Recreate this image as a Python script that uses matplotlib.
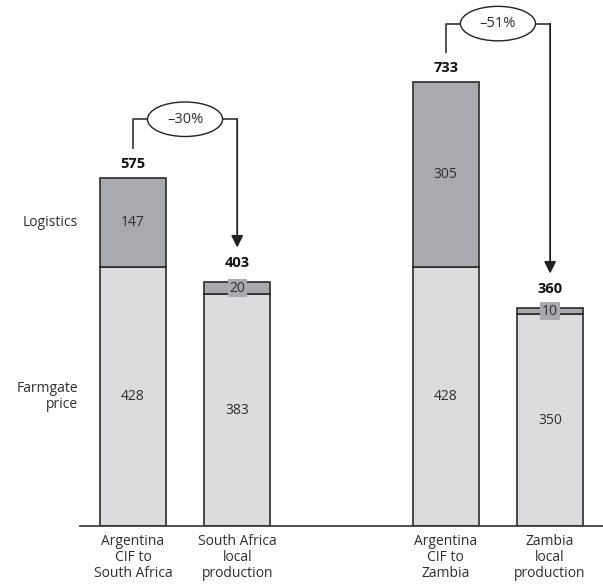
import matplotlib.pyplot as plt
from matplotlib.patches import Ellipse

# data
categories = ['Argentina\nCIF to\nSouth Africa', 'South Africa\nlocal\nproduction',
              'Argentina\nCIF to\nZambia', 'Zambia\nlocal\nproduction']
farmgate = [428, 383, 428, 350]
logistics = [147, 20, 305, 10]
totals = [575, 403, 733, 360]
changes = ['\u201330%', '\u201351%']  # from bar 0 -> 1 and bar 2 -> 3

pos = [0, 1, 3, 4]
c_log = '#a9aab0'
c_farm = '#dcdcde'
c_edge = '#2b2b2b'
c_txt = '#2e2e2e'

plt.rcParams['font.family'] = ['Open Sans', 'DejaVu Sans']

fig = plt.figure(figsize=(6.03, 5.87), dpi=100)
ax = fig.add_axes([80 / 603, 61 / 587, 523 / 603, 526 / 587])
ax.set_xlim(-0.507, 4.507)
ax.set_ylim(0, 869)

w = 0.63
ax.bar(pos, farmgate, width=w, color=c_farm, edgecolor=c_edge, linewidth=1.2)
ax.bar(pos, logistics, bottom=farmgate, width=w, color=c_log, edgecolor=c_edge, linewidth=1.2)

for x, f, l, t in zip(pos, farmgate, logistics, totals):
    ax.text(x, f / 2, str(f), ha='center', va='center', fontsize=10, color=c_txt)
    if l > 50:
        ax.text(x, f + l / 2, str(l), ha='center', va='center', fontsize=10, color=c_txt)
        off = 10
    else:
        ax.text(x, f + l / 2, str(l), ha='center', va='center', fontsize=10, color=c_txt,
                bbox=dict(boxstyle='square,pad=0.12', fc=c_log, ec='none'))
        off = 14
    ax.annotate(str(t), (x, t), xytext=(0, off), textcoords='offset points',
                ha='center', va='center', fontsize=10.5, fontweight='bold', color='#111111')

# brackets with change ellipses
for i, lab in enumerate(changes):
    a, b = pos[2 * i], pos[2 * i + 1]
    ta, tb = totals[2 * i], totals[2 * i + 1]
    top = ta + 97
    mid = (a + b) / 2
    ax.plot([a, a, mid], [ta + 50, top, top], color='#444444', lw=1.3)
    ax.plot([mid, b], [top, top], color='#444444', lw=1.3)
    ax.annotate('', xy=(b, tb + 57), xytext=(b, top),
                arrowprops=dict(arrowstyle='-|>,head_length=0.7,head_width=0.35',
                                color='#222222', lw=1.3, shrinkA=0, shrinkB=0))
    ax.add_patch(Ellipse((mid, top), 0.72, 57, fc='white', ec='#222222', lw=1.0, zorder=3))
    ax.text(mid, top, lab, ha='center', va='center', fontsize=10.5, color=c_txt, zorder=4)

# left side labels
ax.text(-0.525, farmgate[0] + logistics[0] / 2, 'Logistics', ha='right', va='center',
        fontsize=10, color=c_txt, clip_on=False)
ax.text(-0.525, farmgate[0] / 2, 'Farmgate\nprice', ha='right', va='center',
        fontsize=10, color=c_txt, multialignment='right', linespacing=1.1, clip_on=False)

for x, c in zip(pos, categories):
    ax.text(x, -14, c, ha='center', va='top', fontsize=10, color=c_txt,
            linespacing=1.05, clip_on=False)

for s in ['top', 'right', 'left']:
    ax.spines[s].set_visible(False)
ax.spines['bottom'].set_color('#333333')
ax.spines['bottom'].set_linewidth(1.2)
ax.set_xticks([])
ax.set_yticks([])

fig.savefig('out.png', dpi=100)
